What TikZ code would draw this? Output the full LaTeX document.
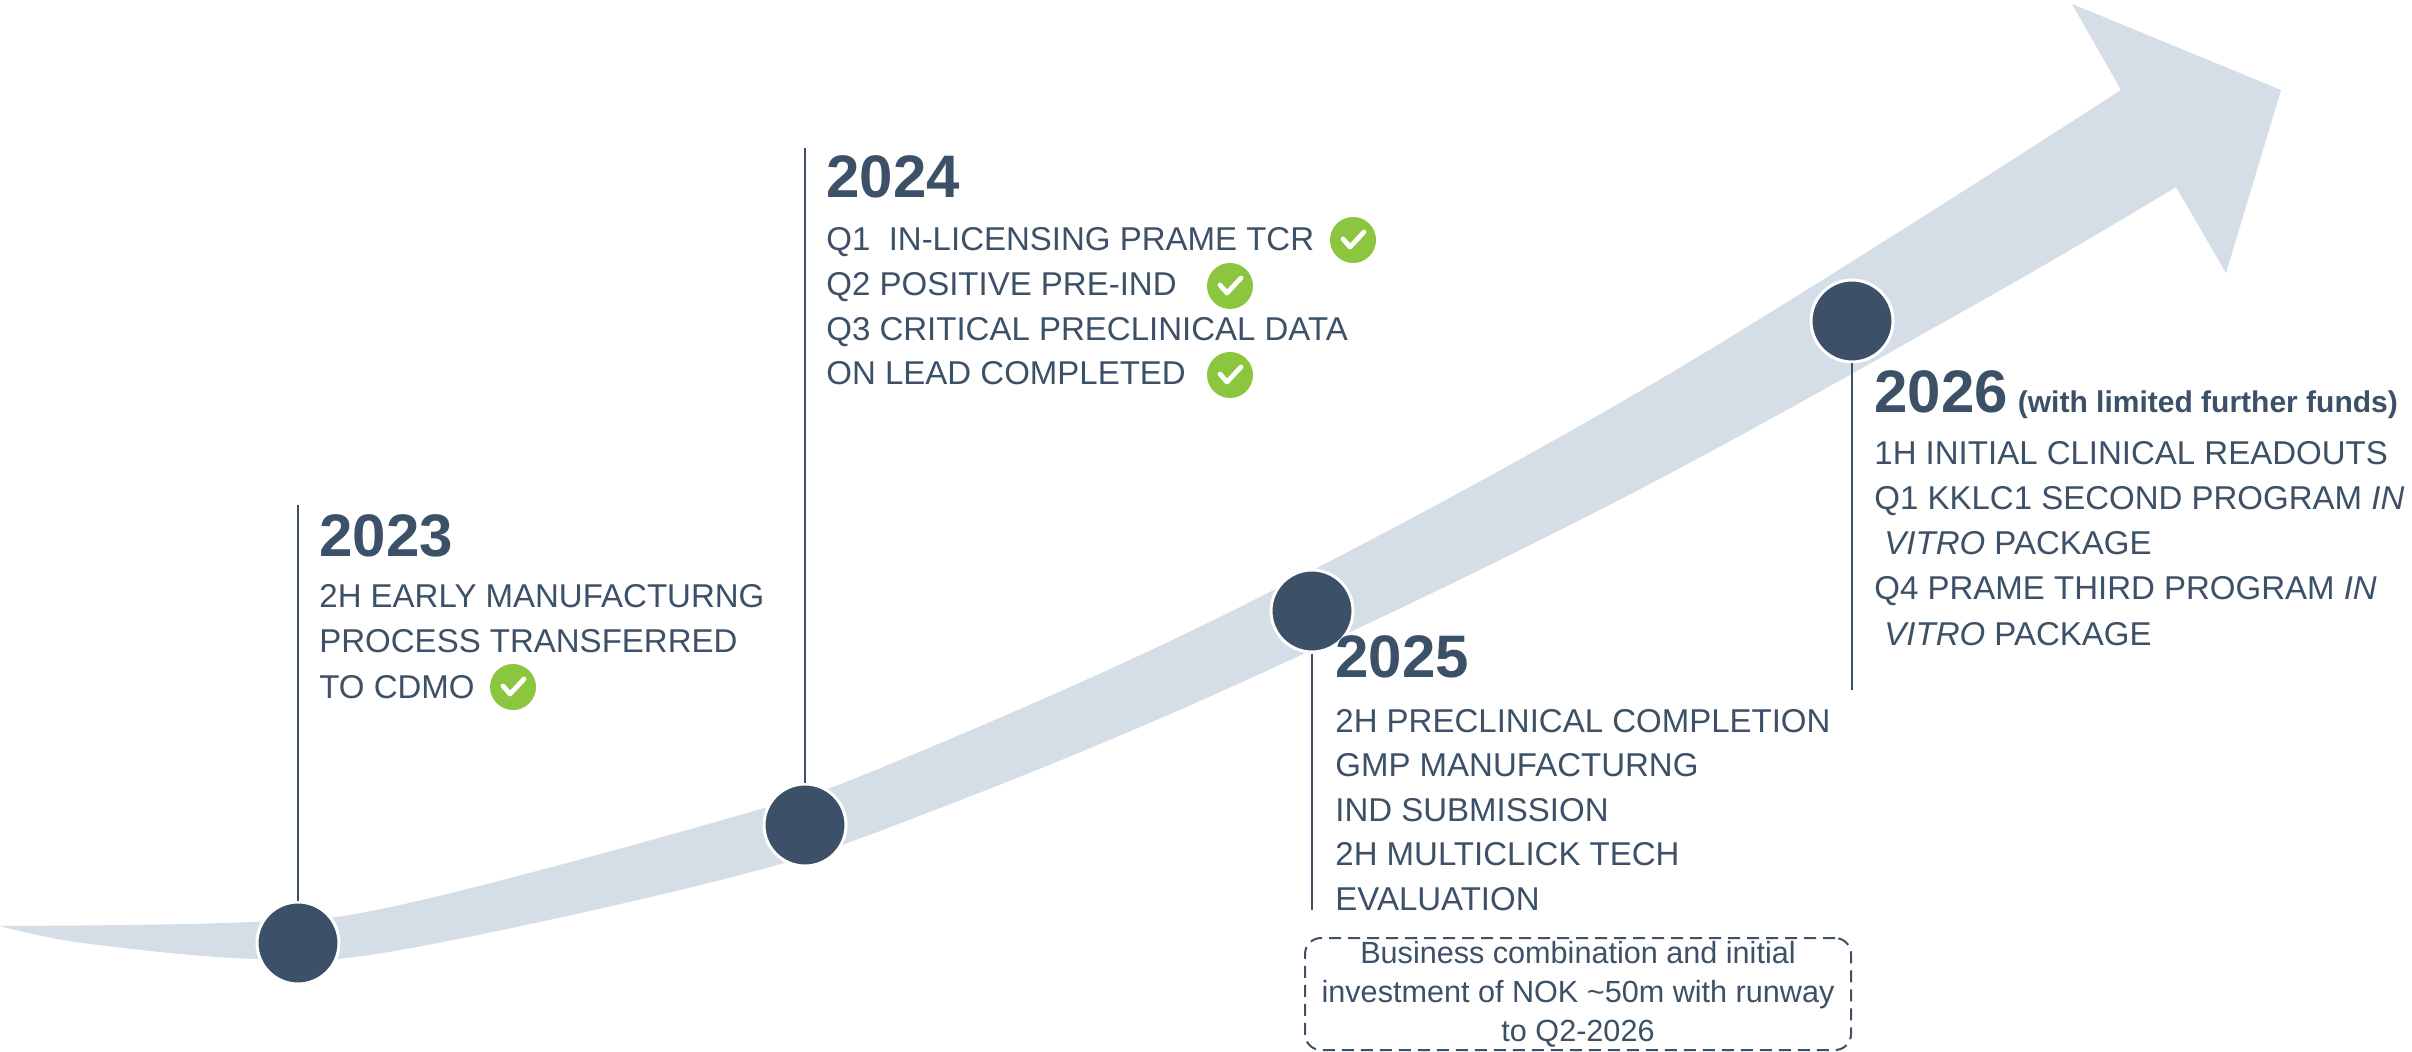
\documentclass[tikz,border=0pt]{standalone}
\usepackage{fontspec}
\setmainfont{Liberation Sans}
\definecolor{ink}{HTML}{3C5067}
\definecolor{band}{HTML}{D5DDE6}
\definecolor{okgreen}{HTML}{8CC63F}
\tikzset{
  txt/.style={anchor=base west, inner sep=0pt, text=ink, font=\fontsize{16.5}{20}\selectfont},
  yearhead/.style={anchor=base west, inner sep=0pt, text=ink, font=\bfseries\fontsize{30}{34}\selectfont},
  dot/.style={circle, fill=ink, draw=white, line width=1.5pt, minimum size=41pt, inner sep=0pt},
  stem/.style={draw=ink, line width=1.4pt},
  okdot/.style={circle, fill=okgreen, minimum size=23pt, inner sep=0pt},
  tick/.style={draw=white, line width=2.4pt, line cap=round, line join=round},
  notebox/.style={draw=ink, dash pattern=on 6pt off 3.5pt, line width=1pt, rounded corners=8pt,
    minimum width=273pt, minimum height=56pt, align=center, text=ink, inner sep=0pt,
    font=\fontsize{15.3}{19.5}\selectfont}
}
\newcommand\okmark[2]{%
  \node[okdot] (#1) at #2 {};
  \draw[tick] ([shift={(-10,-1)}]#1.center) -- ([shift={(-3,7)}]#1.center) -- ([shift={(11,-8)}]#1.center);
}
\begin{document}
\begin{tikzpicture}[x=0.5pt, y=-0.5pt]
\useasboundingbox[fill=white] (0,0) rectangle (2412,1052);

% band arrow
\fill[band] plot[smooth, tension=0.6] coordinates {(0,926) (250,922) (400,905) (740,815) (900,760) (1240,607) (1659,380) (2121,90)}
  -- (2072,4) -- (2281,90) -- (2226,273) -- (2176,187)
  -- plot[smooth, tension=0.6] coordinates {(2176,187) (1983,300) (1619,500) (1240,683) (940,808) (740,875) (400,950) (257,959) (83,943) (0,926)}
  -- cycle;

% milestones
\node[dot] (c23) at (298,943) {};
\node[dot] (c24) at (805,825) {};
\node[dot] (c25) at (1312,611) {};
\node[dot] (c26) at (1852,321) {};

\coordinate (t23) at (298,505);
\coordinate (t24) at (805,148);
\coordinate (t25) at (1312,910);
\coordinate (t26) at (1852,690);

\draw[stem] (t23) -- (c23.north);
\draw[stem] (t24) -- (c24.north);
\draw[stem] (c25.south) -- (t25);
\draw[stem] (c26.south) -- (t26);

% 2023
\node[yearhead] (h23) at (319,557) {2023};
\node[txt] (a1) at (319,608) {2H EARLY MANUFACTURNG};
\node[txt] (a2) at (319,653) {PROCESS TRANSFERRED};
\node[txt] (a3) at (319,698) {TO CDMO};
\okmark{k23}{(513,687)}

% 2024
\node[yearhead] (h24) at (826,198) {2024};
\node[txt] (b1) at (826,251) {Q1\ \ IN-LICENSING PRAME TCR};
\node[txt] (b2) at (826,296) {Q2 POSITIVE PRE-IND};
\node[txt] (b3) at (826,341) {Q3 CRITICAL PRECLINICAL DATA};
\node[txt] (b4) at (826,385) {ON LEAD COMPLETED};
\okmark{k24a}{(1353,240)}
\okmark{k24b}{(1230,286)}
\okmark{k24c}{(1230,375)}

% 2025
\node[yearhead] (h25) at (1335,677) {2025};
\node[txt] (d1) at (1335,732) {2H PRECLINICAL COMPLETION};
\node[txt] (d2) at (1335,776) {GMP MANUFACTURNG};
\node[txt] (d3) at (1335,821) {IND SUBMISSION};
\node[txt] (d4) at (1335,865) {2H MULTICLICK TECH};
\node[txt] (d5) at (1335,910) {EVALUATION};
\node[notebox] (box) at (1578,994) {Business combination and initial\\investment of NOK \textasciitilde50m with runway\\to Q2-2026};

% 2026
\node[yearhead] (h26) at (1874,413) {2026\hspace{5pt}{\fontsize{15}{18}\selectfont(with limited further funds)}};
\node[txt] (e1) at (1874,465) {1H INITIAL CLINICAL READOUTS};
\node[txt] (e2) at (1874,510) {Q1 KKLC1 SECOND PROGRAM \textit{IN}};
\node[txt] (e3) at (1884,555) {\textit{VITRO} PACKAGE};
\node[txt] (e4) at (1874,600) {Q4 PRAME THIRD PROGRAM \textit{IN}};
\node[txt] (e5) at (1884,645) {\textit{VITRO} PACKAGE};
\end{tikzpicture}
\end{document}
